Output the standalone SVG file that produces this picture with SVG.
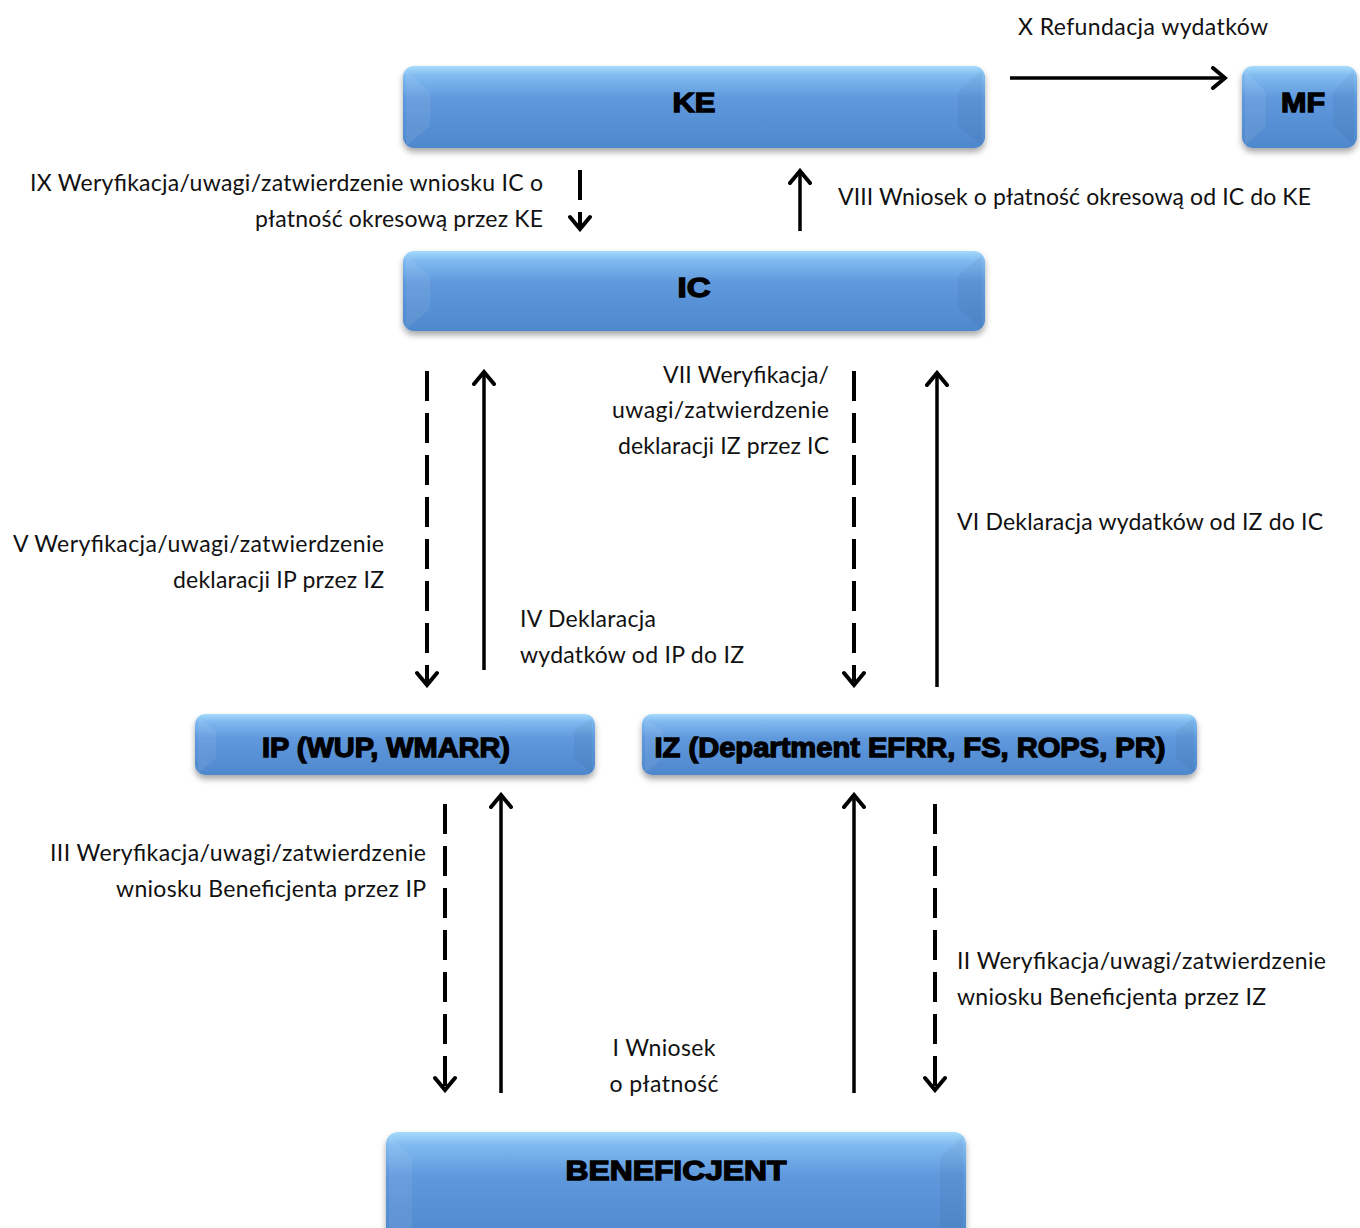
<svg xmlns="http://www.w3.org/2000/svg" width="1360" height="1228" viewBox="0 0 1360 1228">
<defs>
<linearGradient id="gBox" x1="0" y1="0" x2="0" y2="1">
<stop offset="0" stop-color="#a6dbfb"/>
<stop offset="0.12" stop-color="#7fbaf0"/>
<stop offset="0.4" stop-color="#5f98dc"/>
<stop offset="1" stop-color="#4f88cc"/>
</linearGradient>
<filter id="shadow" x="-5%" y="-20%" width="110%" height="150%">
<feDropShadow dx="0" dy="4" stdDeviation="3" flood-color="#000" flood-opacity="0.35"/>
</filter>
<marker id="ah" viewBox="-16 -12 18 24" markerWidth="18" markerHeight="24" refX="0" refY="0" orient="auto" markerUnits="userSpaceOnUse">
<path d="M-13,-10 L-1,0 L-13,10" fill="none" stroke="#000" stroke-width="4" stroke-linecap="round" stroke-linejoin="miter"/>
</marker>
</defs>
<style>
.box{fill:url(#gBox);filter:url(#shadow);}
.bl{fill:#ffffff;fill-opacity:0.07;}
.br{fill:#000000;fill-opacity:0.04;}
.nt{font-family:"Liberation Sans",Arial,sans-serif;font-weight:bold;font-size:27px;fill:#000;stroke:#000;stroke-width:1.3;text-anchor:middle;}
.lb{font-family:Lato,"Open Sans",sans-serif;font-size:23px;fill:#111;}
.e{text-anchor:end;}
.m{text-anchor:middle;}
.sol{stroke:#000;stroke-width:3.5;fill:none;marker-end:url(#ah);}
.dsh{stroke:#000;stroke-width:4;fill:none;stroke-dasharray:30 12;marker-end:url(#ah);}
</style>
<rect width="1360" height="1228" fill="#fff"/>

<g id="node-KE">
<rect class="box" x="403" y="66" width="582" height="82" rx="11"/>
<polygon class="bl" points="406,70 430,92 430,126 406,146"/>
<polygon class="br" points="982,70 958,92 958,126 982,146"/>
<text class="nt" x="694" y="112" textLength="43" lengthAdjust="spacingAndGlyphs">KE</text>
</g>
<g id="node-MF">
<rect class="box" x="1242" y="66" width="115" height="82" rx="11"/>
<polygon class="bl" points="1245,70 1266,92 1266,126 1245,146"/>
<polygon class="br" points="1354,70 1333,92 1333,126 1354,146"/>
<text class="nt" x="1303" y="112" textLength="44" lengthAdjust="spacingAndGlyphs">MF</text>
</g>
<g id="node-IC">
<rect class="box" x="403" y="251" width="582" height="80" rx="11"/>
<polygon class="bl" points="406,255 430,276 430,309 406,329"/>
<polygon class="br" points="982,255 958,276 958,309 982,329"/>
<text class="nt" x="694" y="297" textLength="33" lengthAdjust="spacingAndGlyphs">IC</text>
</g>
<g id="node-IP">
<rect class="box" x="195" y="714" width="400" height="61" rx="10"/>
<polygon class="bl" points="198,718 216,731 216,758 198,773"/>
<polygon class="br" points="592,718 574,731 574,758 592,773"/>
<text class="nt" x="386" y="757" textLength="248" lengthAdjust="spacingAndGlyphs">IP (WUP, WMARR)</text>
</g>
<g id="node-IZ">
<rect class="box" x="642" y="714" width="555" height="61" rx="10"/>
<polygon class="bl" points="645,718 663,731 663,758 645,773"/>
<polygon class="br" points="1194,718 1176,731 1176,758 1194,773"/>
<text class="nt" x="910" y="757" textLength="511" lengthAdjust="spacingAndGlyphs">IZ (Department EFRR, FS, ROPS, PR)</text>
</g>
<g id="node-BENEFICJENT">
<rect class="box" x="386" y="1132" width="580" height="110" rx="12"/>
<polygon class="bl" points="389,1136 412,1158 412,1228 389,1228"/>
<polygon class="br" points="963,1136 940,1158 940,1228 963,1228"/>
<text class="nt" x="676" y="1180" textLength="221" lengthAdjust="spacingAndGlyphs">BENEFICJENT</text>
</g>

<g id="connectors">
<line class="sol" x1="1010" y1="78" x2="1226" y2="78"/>
<line class="dsh" x1="580" y1="170" x2="580" y2="230"/>
<line class="sol" x1="800" y1="231" x2="800" y2="170"/>
<line class="dsh" x1="427" y1="371" x2="427" y2="686"/>
<line class="sol" x1="484" y1="670" x2="484" y2="371"/>
<line class="dsh" x1="854" y1="371" x2="854" y2="686"/>
<line class="sol" x1="937" y1="687" x2="937" y2="372"/>
<line class="dsh" x1="445" y1="804" x2="445" y2="1091"/>
<line class="sol" x1="501" y1="1093" x2="501" y2="794"/>
<line class="sol" x1="854" y1="1093" x2="854" y2="794"/>
<line class="dsh" x1="935" y1="804" x2="935" y2="1091"/>
</g>

<g id="labels">
<text class="lb" x="1018" y="35" textLength="250">X Refundacja wydatków</text>
<text class="lb e" x="543" y="191" textLength="513">IX Weryfikacja/uwagi/zatwierdzenie wniosku IC o</text>
<text class="lb e" x="543" y="227" textLength="288">płatność okresową przez KE</text>
<text class="lb" x="838" y="205" textLength="473">VIII Wniosek o płatność okresową od IC do KE</text>
<text class="lb e" x="829" y="383" textLength="166">VII Weryfikacja/</text>
<text class="lb e" x="829" y="418" textLength="217">uwagi/zatwierdzenie</text>
<text class="lb e" x="829" y="454" textLength="211">deklaracji IZ przez IC</text>
<text class="lb" x="957" y="530" textLength="366">VI Deklaracja wydatków od IZ do IC</text>
<text class="lb e" x="384" y="552" textLength="371">V Weryfikacja/uwagi/zatwierdzenie</text>
<text class="lb e" x="384" y="588" textLength="211">deklaracji IP przez IZ</text>
<text class="lb" x="520" y="627" textLength="136">IV Deklaracja</text>
<text class="lb" x="520" y="663" textLength="224">wydatków od IP do IZ</text>
<text class="lb e" x="426" y="861" textLength="376">III Weryfikacja/uwagi/zatwierdzenie</text>
<text class="lb e" x="426" y="897" textLength="310">wniosku Beneficjenta przez IP</text>
<text class="lb" x="957" y="969" textLength="369">II Weryfikacja/uwagi/zatwierdzenie</text>
<text class="lb" x="957" y="1005" textLength="309">wniosku Beneficjenta przez IZ</text>
<text class="lb m" x="664" y="1056" textLength="103">I Wniosek</text>
<text class="lb m" x="664" y="1092" textLength="109">o płatność</text>
</g>
</svg>
